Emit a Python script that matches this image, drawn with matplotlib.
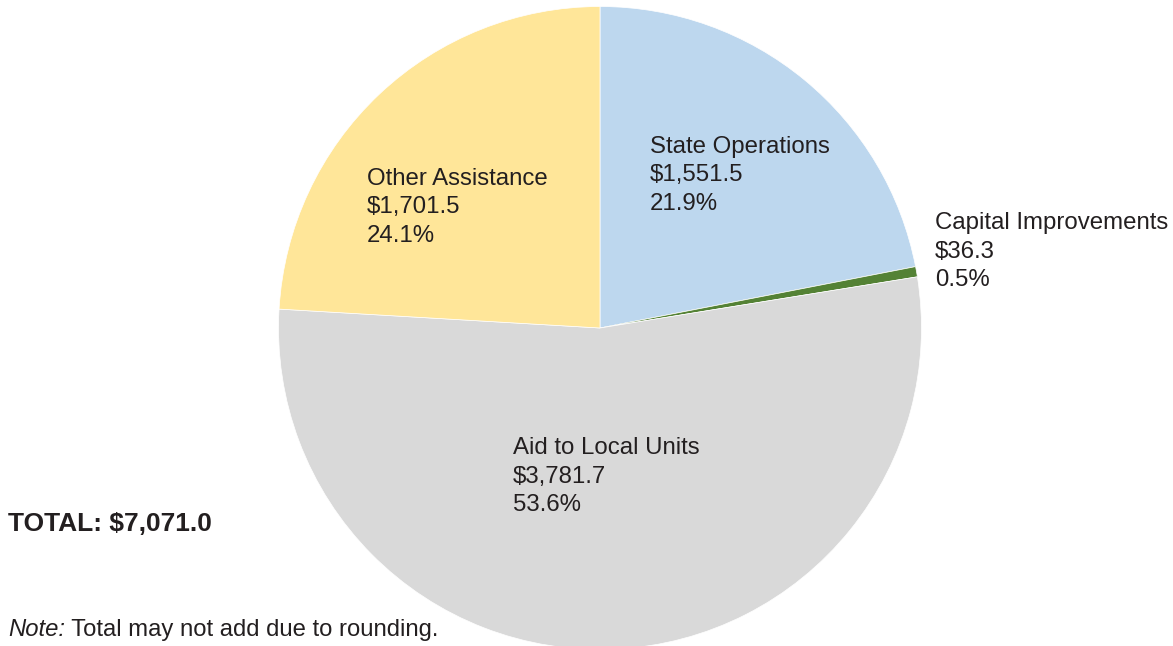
import matplotlib.pyplot as plt

plt.rcParams['font.family'] = ['Liberation Sans', 'DejaVu Sans']

# Budget categories, clockwise from the top
categories = ['State Operations', 'Capital Improvements', 'Aid to Local Units', 'Other Assistance']
amounts = [1551.5, 36.3, 3781.7, 1701.5]
shares = ['21.9%', '0.5%', '53.6%', '24.1%']
total_label = 'TOTAL: $7,071.0'
colors = ['#BDD7EE', '#548235', '#D9D9D9', '#FFE699']

W, H = 1173, 646
fig = plt.figure(figsize=(W / 100, H / 100), dpi=100)
ax = fig.add_axes([0, 0, 1, 1])

# pie in pixel coordinates (y measured from the bottom)
wedges, _ = ax.pie(amounts, colors=colors, startangle=90, counterclock=False,
                   center=(600, H - 328), radius=321.5,
                   wedgeprops=dict(edgecolor='white', linewidth=0.5))
for w in wedges:
    w.set_clip_on(False)

# pie() resets the limits, so set them afterwards
ax.set_xlim(0, W)
ax.set_ylim(0, H)
ax.set_aspect('equal')
ax.axis('off')

# label anchor: left x and baseline of first line (pixels from top)
label_pos = [(650, 153), (935, 229), (513, 454), (367, 185)]
line_gap = 28.5
txt = '#231F20'

for name, amt, pct, (x, y) in zip(categories, amounts, shares, label_pos):
    lines = [name, f'${amt:,.1f}', pct]
    for i, s in enumerate(lines):
        ax.text(x, H - (y + i * line_gap), s, fontsize=17.3, color=txt,
                ha='left', va='baseline')

ax.text(8, H - 531, total_label, fontsize=19, fontweight='bold',
        color=txt, ha='left', va='baseline')

t = ax.text(8, H - 636, 'Note:', fontsize=17.2, style='italic',
            color=txt, ha='left', va='baseline')
ax.annotate(' Total may not add due to rounding.', xy=(1, 0), xycoords=t,
            fontsize=17.2, color=txt, ha='left', va='bottom')

fig.savefig('out.png', dpi=100)
